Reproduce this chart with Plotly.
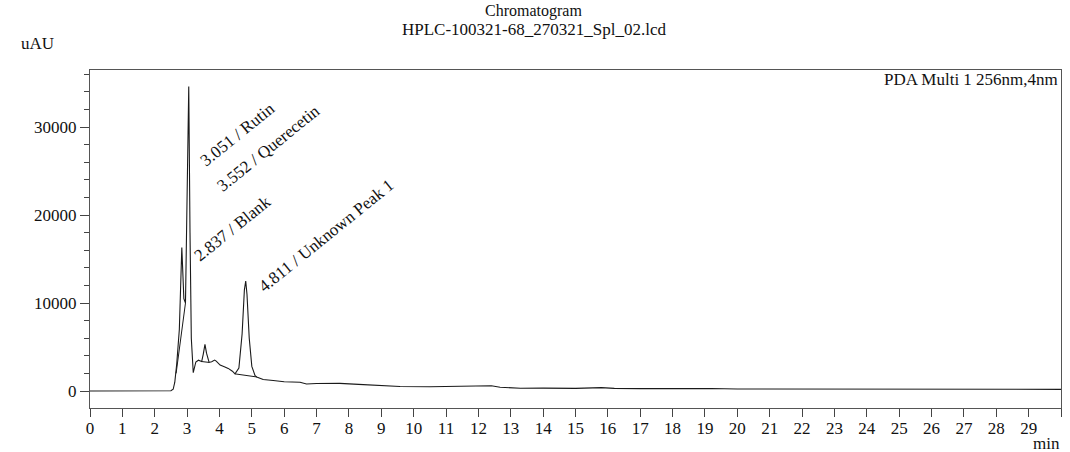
import plotly.graph_objects as go

# ---- data ----
time_min = [0, 1, 2, 2.5, 2.57, 2.62, 2.68, 2.76, 2.837, 2.9, 2.95, 3.0, 3.051, 3.09, 3.13, 3.19,
            3.27, 3.35, 3.45, 3.5, 3.552, 3.6, 3.68, 3.76, 3.85, 3.9, 4.02, 4.15, 4.27, 4.4, 4.48,
            4.6, 4.7, 4.77, 4.811, 4.85, 4.92, 5.0, 5.1, 5.15, 5.35, 5.66, 6.0, 6.49, 6.69, 7.0,
            7.72, 8.3, 9.0, 9.58, 10.5, 11.4, 12.0, 12.4, 12.67, 13.3, 14.0, 15.0, 15.8, 16.2,
            17.0, 18.0, 18.5, 19.2, 20.0, 21.0, 22.0, 23.0, 24.0, 24.9, 25.1, 26.0, 27.0, 28.0,
            29.0, 30.0]
signal_uau = [0, 0, 0, 30, 200, 1000, 3100, 7000, 16300, 10500, 10000, 20000, 34600, 18000, 6000,
              2080, 3300, 3500, 3350, 4200, 5300, 4300, 3250, 3330, 3520, 3400, 2950, 2750, 2570,
              2250, 1950, 2600, 6500, 11500, 12500, 11000, 6000, 2800, 1750, 1600, 1300, 1200,
              1050, 990, 800, 850, 870, 750, 620, 520, 480, 540, 520, 600, 420, 320, 330, 300,
              380, 300, 270, 300, 260, 290, 230, 230, 260, 250, 240, 260, 190, 190, 190, 190,
              190, 190]

# inner flank of the Rutin peak under the 2.837 peak
flank_time = [2.66, 2.75, 2.85, 2.95]
flank_uau = [2000, 4500, 7500, 10000]

# integration baselines
base1_time = [3.45, 3.68]
base1_uau = [3350, 3250]
base2_time = [4.48, 5.15]
base2_uau = [1950, 1600]

peak_labels = ["3.051 / Rutin", "3.552 / Querecetin", "2.837 / Blank", "4.811 / Unknown Peak 1"]
label_x = [4.56, 5.5, 4.4, 7.3]
label_y = [29100, 27600, 18500, 17700]

x_tick_vals = list(range(0, 31))
x_tick_text = [str(v) for v in range(0, 30)] + [""]
y_tick_vals = [0, 10000, 20000, 30000]
y_tick_text = ["0", "10000", "20000", "30000"]

FONT = "Liberation Serif"
TXT = "#111111"
LINE = "#1a1a1a"

fig = go.Figure()
fig.add_trace(go.Scatter(x=time_min, y=signal_uau, mode="lines",
                         line=dict(color=LINE, width=1.1), showlegend=False))
fig.add_trace(go.Scatter(x=flank_time, y=flank_uau, mode="lines",
                         line=dict(color=LINE, width=1), showlegend=False))
fig.add_trace(go.Scatter(x=base1_time, y=base1_uau, mode="lines",
                         line=dict(color=LINE, width=1), showlegend=False))
fig.add_trace(go.Scatter(x=base2_time, y=base2_uau, mode="lines",
                         line=dict(color=LINE, width=1), showlegend=False))

for txt, lx, ly in zip(peak_labels, label_x, label_y):
    fig.add_annotation(x=lx, y=ly, xref="x", yref="y", text=txt, showarrow=False,
                       textangle=-39, xanchor="center", yanchor="middle",
                       font=dict(family=FONT, size=17, color=TXT))

fig.add_annotation(x=0.5, y=1, xref="paper", yref="paper", xanchor="center", yanchor="middle",
                   xshift=-42, yshift=59, text="Chromatogram", showarrow=False,
                   font=dict(family=FONT, size=16, color=TXT))
fig.add_annotation(x=0.5, y=1, xref="paper", yref="paper", xanchor="center", yanchor="middle",
                   xshift=-42, yshift=41, text="HPLC-100321-68_270321_Spl_02.lcd", showarrow=False,
                   font=dict(family=FONT, size=17, color=TXT))
fig.add_annotation(x=0, y=1, xref="paper", yref="paper", xanchor="left", yanchor="middle",
                   xshift=-71, yshift=27, text="uAU", showarrow=False,
                   font=dict(family=FONT, size=17, color=TXT))
fig.add_annotation(x=1, y=0, xref="paper", yref="paper", xanchor="right", yanchor="middle",
                   xshift=1, yshift=-35, text="min", showarrow=False,
                   font=dict(family=FONT, size=17, color=TXT))
fig.add_annotation(x=1, y=1, xref="paper", yref="paper", xanchor="right", yanchor="middle",
                   xshift=-1, yshift=-9, text="PDA Multi 1 256nm,4nm", showarrow=False,
                   font=dict(family=FONT, size=17, color=TXT))

fig.update_xaxes(range=[0, 30], tickmode="array", tickvals=x_tick_vals, ticktext=x_tick_text,
                 ticks="outside", ticklen=8, tickcolor="#444", showgrid=False, zeroline=False,
                 showline=True, linecolor="#555", linewidth=1.2, mirror=True,
                 ticklabelstandoff=-4,
                 tickfont=dict(family=FONT, size=17, color=TXT))
fig.update_yaxes(range=[-1930, 36480], tickmode="array", tickvals=y_tick_vals, ticktext=y_tick_text,
                 ticks="outside", ticklen=9, tickcolor="#444", showgrid=False, zeroline=False,
                 showline=True, linecolor="#555", linewidth=1.2, mirror=True,
                 minor=dict(dtick=2000, tick0=0, ticks="outside", ticklen=5, tickcolor="#444"),
                 tickfont=dict(family=FONT, size=17, color=TXT))

fig.update_layout(width=1070, height=452, margin=dict(l=90, r=9, t=70, b=44),
                  plot_bgcolor="white", paper_bgcolor="white")

fig.write_html("out.html", config={"displayModeBar": False},
               post_script="document.body.style.margin='0';document.body.style.padding='0';"
                           "document.body.style.overflow='hidden';")
